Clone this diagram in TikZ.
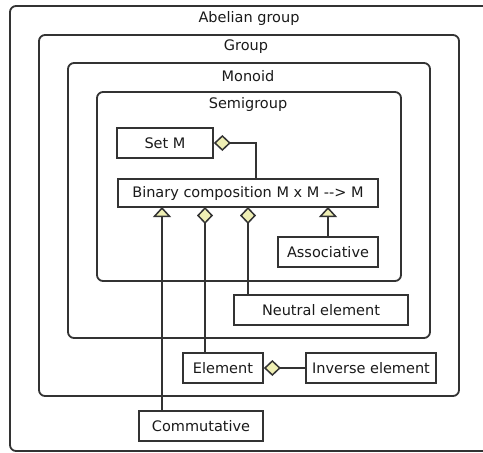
\documentclass[tikz,border=0pt]{standalone}
\usepackage{fontspec}
\setmainfont{DejaVu Sans}
\usetikzlibrary{arrows.meta}
\definecolor{ln}{HTML}{333333}
\definecolor{dfill}{HTML}{EFEFB4}
\definecolor{tx}{HTML}{1A1A1A}
\tikzset{
  container/.style={draw=ln, line width=1.8pt, rounded corners=6pt},
  clabel/.style={text=tx, font=\fontsize{14.5}{17}\selectfont, inner sep=0pt},
  cls/.style={draw=ln, line width=1.7pt, fill=white, text=tx, font=\fontsize{14.5}{17}\selectfont, inner sep=0pt},
  conn/.style={draw=ln, line width=1.6pt},
  aggr/.style={conn, -{Diamond[fill=dfill, length=17pt, width=16pt, line width=1.5pt]}},
  inh/.style={conn, -{Triangle[fill=dfill, length=10pt, width=18pt, line width=1.5pt]}},
}
\begin{document}
\begin{tikzpicture}[x=1pt, y=-1pt]
\useasboundingbox (0,0) rectangle (483,453);
\clip (0,0) rectangle (483,453);
\fill[white] (0,0) rectangle (483,453);
% containers
\draw[container] (10,6) rectangle (492,451);
\node[clabel] (abel) at (249,18) {Abelian group};
\draw[container] (39,35) rectangle (459,396);
\node[clabel] (grp) at (246,47) {Group};
\draw[container] (68,63) rectangle (430,338);
\node[clabel] (mon) at (248,76) {Monoid};
\draw[container] (97,92) rectangle (401,281);
\node[clabel] (semi) at (248,104) {Semigroup};
% class boxes
\node[cls, minimum width=96pt, minimum height=30pt] (setm) at (165,143) {Set M};
\node[cls, minimum width=260pt, minimum height=28pt] (bin) at (248,193) {Binary composition M x M -{}-> M};
\node[cls, minimum width=100pt, minimum height=30pt] (assoc) at (328,252) {Associative};
\node[cls, minimum width=174pt, minimum height=30pt] (neut) at (321,310) {Neutral element};
\node[cls, minimum width=80pt, minimum height=30pt] (elem) at (223,368) {Element};
\node[cls, minimum width=130pt, minimum height=30pt] (inv) at (371,368) {Inverse element};
\node[cls, minimum width=124pt, minimum height=30pt] (comm) at (201,426) {Commutative};
% anchor coordinates on the binary composition box
\coordinate (bt) at (256,179);
\coordinate (bc) at (162,207);
\coordinate (be) at (205,207);
\coordinate (bn) at (248,207);
\coordinate (ba) at (328,207);
% connectors
\draw[aggr] (bt) |- (setm.east);
\draw[inh] (bc |- comm.north) -- (bc);
\draw[aggr] (be |- elem.north) -- (be);
\draw[aggr] (bn |- neut.north) -- (bn);
\draw[inh] (ba |- assoc.north) -- (ba);
\draw[aggr] (inv.west) -- (elem.east);
\end{tikzpicture}
\end{document}
